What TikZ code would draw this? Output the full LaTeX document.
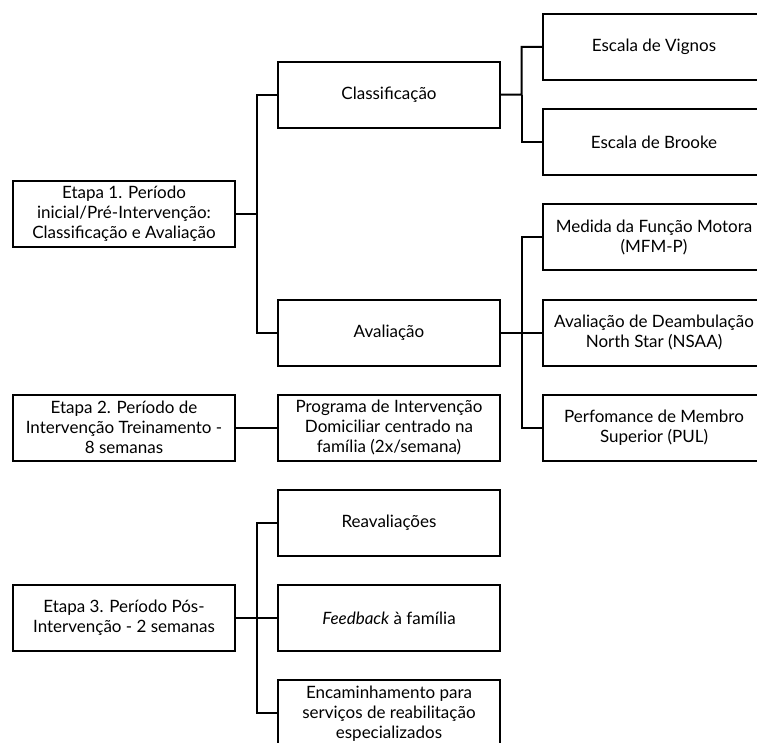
\documentclass[tikz,border=0pt]{standalone}
\usepackage{fontspec}
\setmainfont{Lato}
\usetikzlibrary{positioning, calc}

\begin{document}
\begin{tikzpicture}[
        node distance=27.2pt and 41pt,
        stage/.style={draw=black, line width=2pt, fill=white, minimum width=222pt, minimum height=66pt, inner xsep=0pt, align=center, font=\fontsize{17}{20}\selectfont},
        link/.style={black, line width=2pt}
    ]
        \useasboundingbox (0,0) rectangle (757pt,-743pt);
        \clip (0,0) rectangle (757pt,-743pt);

        % coluna da direita
        \node[stage] (vignos) at (654pt,-47pt) {Escala de Vignos};
        \node[stage, below=of vignos] (brooke) {Escala de Brooke};
        \node[stage, below=of brooke] (mfm) {Medida da Função Motora\\(MFM-P)};
        \node[stage, below=of mfm] (nsaa) {Avaliação de Deambulação\\North Star (NSAA)};
        \node[stage, below=of nsaa] (pul) {Perfomance de Membro\\Superior (PUL)};

        % coluna do meio
        \node[stage, anchor=east, xshift=-41pt] (classif) at ($(vignos.west)!0.5!(brooke.west)$) {Classificação};
        \node[stage, left=of nsaa] (aval) {Avaliação};
        \node[stage, below=of aval] (prog) {Programa de Intervenção\\Domiciliar centrado na\\família (2x/semana)};
        \node[stage, below=of prog] (reav) {Reavaliações};
        \node[stage, below=of reav] (feed) {\textit{Feedback} à família};
        \node[stage, below=of feed] (encam) {Encaminhamento para\\serviços de reabilitação\\especializados};

        % etapas
        \node[stage, anchor=east, xshift=-41pt] (etapa1) at ($(classif.west)!0.5!(aval.west)$) {Etapa 1. Período\\inicial/Pré-Intervenção:\\Classificação e Avaliação};
        \node[stage, left=of prog] (etapa2) {Etapa 2. Período de\\Intervenção Treinamento -\\8 semanas};
        \node[stage, left=of feed] (etapa3) {Etapa 3. Período Pós-\\Intervenção - 2 semanas};

        % conectores
        \coordinate (j1) at ($(etapa1.east)!0.5!(etapa1.east -| classif.west)$);
        \draw[link] (etapa1.east) -- (j1) |- (classif.west);
        \draw[link] (j1) |- (aval.west);

        \coordinate (j2) at ($(classif.east)!0.5!(classif.east -| vignos.west)$);
        \draw[link] (classif.east) -- (j2) |- (vignos.west);
        \draw[link] (j2) |- (brooke.west);

        \coordinate (j3) at ($(aval.east)!0.5!(nsaa.west)$);
        \draw[link] (aval.east) -- (nsaa.west);
        \draw[link] (j3) |- (mfm.west);
        \draw[link] (j3) |- (pul.west);

        \draw[link] (etapa2) -- (prog);

        \coordinate (j4) at ($(etapa3.east)!0.5!(feed.west)$);
        \draw[link] (etapa3.east) -- (feed.west);
        \draw[link] (j4) |- (reav.west);
        \draw[link] (j4) |- (encam.west);
    \end{tikzpicture}
\end{document}
